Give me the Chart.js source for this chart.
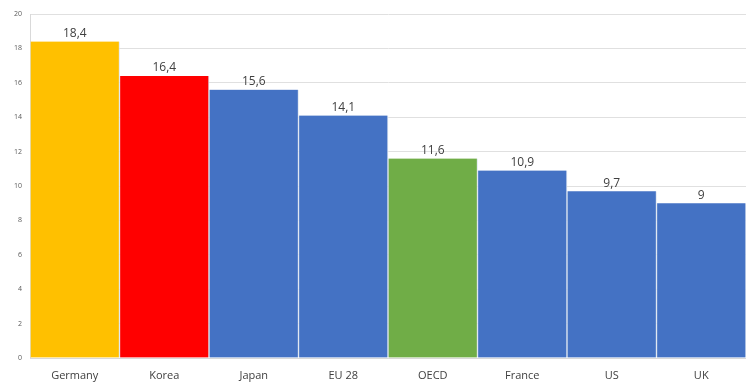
<!DOCTYPE html>
<html><head><meta charset="utf-8">
<script src="https://cdn.jsdelivr.net/npm/chart.js@4/dist/chart.umd.min.js"></script>
<style>html,body{margin:0;padding:0;background:#fff;}#wrap{width:746px;height:385px;}</style>
</head><body><div id="wrap"><canvas id="c" width="746" height="385"></canvas></div>
<script>
const categories = ["Germany","Korea","Japan","EU 28","OECD","France","US","UK"];
const values = [18.4,16.4,15.6,14.1,11.6,10.9,9.7,9];
const valueLabels = ["18,4","16,4","15,6","14,1","11,6","10,9","9,7","9"];
const barColors = ["#FFC000","#FF0000","#4472C4","#4472C4","#70AD47","#4472C4","#4472C4","#4472C4"];
const yTicks = [0,2,4,6,8,10,12,14,16,18,20];

const labelPlugin = {
  id:'vlabels',
  afterDatasetsDraw(chart){
    const ctx = chart.ctx;
    const meta = chart.getDatasetMeta(0);
    ctx.save();
    ctx.font = '12px "Open Sans", sans-serif';
    ctx.fillStyle = '#404040';
    ctx.textAlign = 'center';
    ctx.textBaseline = 'bottom';
    meta.data.forEach((b,i)=>{ ctx.fillText(valueLabels[i], b.x, b.y - 2); });
    ctx.restore();
  }
};

new Chart(document.getElementById('c'),{
  type:'bar',
  data:{labels:categories,datasets:[{data:values,backgroundColor:barColors,
    borderColor:'rgba(220,228,240,0.9)',borderWidth:{left:1,right:1,top:0,bottom:0},
    categoryPercentage:1,barPercentage:1}]},
  options:{
    responsive:false,animation:false,
    layout:{padding:{top:14,right:0,left:6,bottom:0}},
    plugins:{legend:{display:false},tooltip:{enabled:false}},
    scales:{
      x:{grid:{display:false},border:{color:'#d9d9d9'},
        afterFit(s){s.height=27;},
        ticks:{color:'#404040',font:{size:11,family:'"Open Sans", sans-serif'},padding:3}},
      y:{min:0,max:20,afterBuildTicks(s){s.ticks=yTicks.map(v=>({value:v}));},
        grid:{color:'#e0e0e0',drawTicks:false},border:{color:'#d9d9d9'},
        ticks:{color:'#595959',font:{size:7,family:'"Open Sans", sans-serif'},padding:8}}
    }
  },
  plugins:[labelPlugin]
});
</script></body></html>
